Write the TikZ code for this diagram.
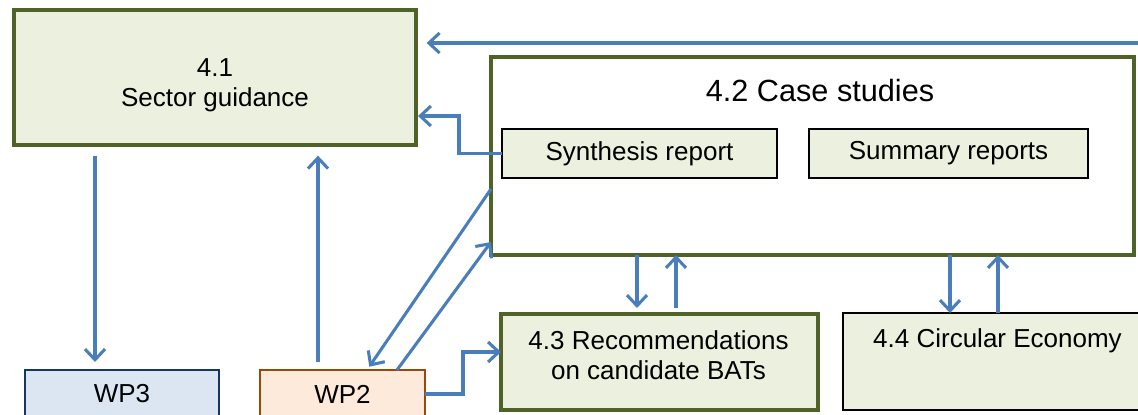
\documentclass[tikz,border=0pt]{standalone}
\usepackage{fontspec}
\setmainfont{Liberation Sans}
\usetikzlibrary{arrows.meta,positioning}

\definecolor{olivedark}{HTML}{4F6228}
\definecolor{palegreen}{HTML}{EBF1DE}
\definecolor{paleblue}{HTML}{DCE6F2}
\definecolor{navyline}{HTML}{17375E}
\definecolor{palepeach}{HTML}{FDEADA}
\definecolor{brownline}{HTML}{984807}
\definecolor{flowblue}{HTML}{4A7EBB}

\tikzset{
	box/.style={rectangle, inner sep=0pt, outer sep=0pt, align=center,
		font=\fontsize{19.5}{22.5}\selectfont},
	greenbox/.style={box, draw=olivedark, fill=palegreen, line width=2.4pt},
	reportbox/.style={box, draw=black, fill=palegreen, line width=1.6pt},
	lbl/.style={inner sep=0pt, align=center, font=\fontsize{19.5}{22.5}\selectfont},
	flow/.style={draw=flowblue, line width=2.3pt,
		-{Straight Barb[length=8pt,width=15pt]}}
}

\begin{document}
\begin{tikzpicture}[x=0.75pt,y=-0.75pt]
	\useasboundingbox (0,0) rectangle (1138,414);
	\clip (0,0) rectangle (1138,414);

	% boxes
	\node[greenbox, minimum width=301.5pt, minimum height=101.25pt] (sg) at (215,77.5) {};
	\node[lbl] (sgtext) at (215,85) {4.1\\Sector guidance};

	\node[greenbox, fill=white, minimum width=482.25pt, minimum height=148.5pt] (cs) at (812.5,156) {};
	\node[lbl, font=\fontsize{23}{27}\selectfont] (cstitle) at (820,91) {4.2 Case studies};
	\node[reportbox, minimum width=206.25pt, minimum height=36.75pt] (syn) at (639.5,153.5) {Synthesis report};
	\node[reportbox, minimum width=209.25pt, minimum height=36.75pt] (sum) at (948.5,153.5) {Summary reports};

	\node[greenbox, minimum width=237.75pt, minimum height=72pt] (rec) at (659.5,362) {};
	\node[lbl] (rectext) at (658.5,355) {4.3 Recommendations\\on candidate BATs};
	\node[reportbox, minimum width=230.25pt, minimum height=72.75pt] (ce) at (996.5,361.5) {};
	\node[lbl] (cetext) at (997.5,341) {4.4 Circular Economy};

	\node[box, draw=navyline, fill=paleblue, line width=1.6pt,
		minimum width=145.5pt, minimum height=36pt] (wp3) at (122,394) {WP3};
	\node[box, draw=brownline, fill=palepeach, line width=1.6pt,
		minimum width=123.75pt, minimum height=36pt] (wp2) at (342.5,394) {WP2};

	% connectors
	\coordinate (feed) at (1142,43);
	\coordinate (bend1) at (459,116);
	\coordinate (bend2) at (463,352);
	\draw[flow, shorten >=8pt] (feed) -- (sg.east |- feed);
	\draw[flow, shorten >=1.5pt] (syn.west) -| (bend1) -- (sg.east |- bend1);
	\draw[flow, shorten <=8pt, shorten >=6pt] (sg.south -| 95,0) -- (wp3.north -| 95,0);
	\draw[flow, shorten <=6pt, shorten >=8pt] (wp2.north -| 318,0) -- (sg.south -| 318,0);
	\draw[flow, shorten >=3pt] (cs.west |- 0,189) -- (wp2.north -| 367,0);
	\draw[flow] (wp2.north -| 397,0) -- (cs.west |- 0,242);
	\draw[flow] (wp2.east) -| (bend2) -- (rec.west |- bend2);
	\draw[flow, shorten >=4.5pt] (cs.south -| 637,0) -- (rec.north -| 637,0);
	\draw[flow, shorten <=4.5pt] (rec.north -| 676,0) -- (cs.south -| 676,0);
	\draw[flow] (cs.south -| 950,0) -- (ce.north -| 950,0);
	\draw[flow] (ce.north -| 998,0) -- (cs.south -| 998,0);
\end{tikzpicture}
\end{document}
